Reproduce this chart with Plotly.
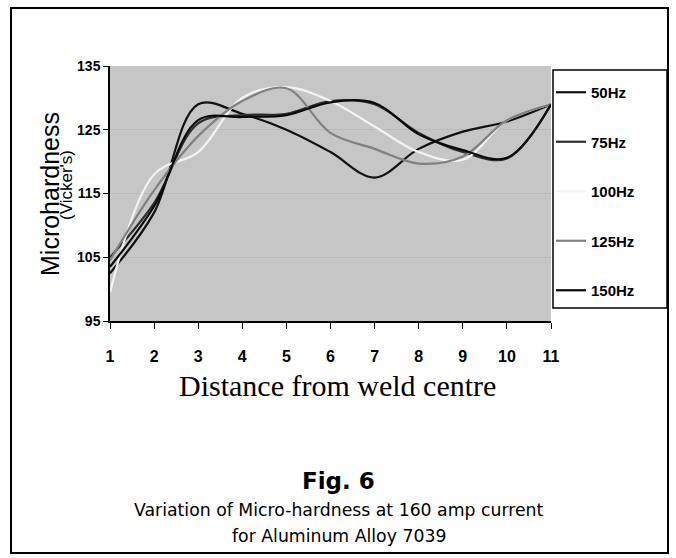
import plotly.graph_objects as go

W, H = 676, 558

distance = [1, 2, 3, 4, 5, 6, 7, 8, 9, 10, 11]
hz50 = [102.5, 112.0, 129.0, 127.5, 125.0, 121.5, 117.5, 122.0, 124.7, 126.3, 129.0]
hz75 = [105.0, 113.5, 126.0, 127.3, 127.5, 129.5, 129.0, 124.5, 121.5, 120.5, 129.0]
hz100 = [99.5, 118.0, 121.5, 130.0, 131.7, 129.5, 125.5, 121.5, 120.3, 126.5, 129.0]
hz125 = [104.5, 115.5, 124.0, 129.5, 131.5, 124.5, 122.0, 119.7, 120.8, 126.5, 129.0]
hz150 = [103.5, 113.0, 126.5, 127.0, 127.3, 129.3, 129.2, 124.3, 121.8, 120.6, 129.0]

series_names = ["50Hz", "75Hz", "100Hz", "125Hz", "150Hz"]
series_values = [hz50, hz75, hz100, hz125, hz150]
series_colors = ["#111111", "#2e2e2e", "#f4f4f4", "#808080", "#0a0a0a"]

y_ticks = [95, 105, 115, 125, 135]
x_ticks = distance


def px(p):
    return p / W


def py(p):
    return 1 - p / H


fig = go.Figure()
for name, vals, col in zip(series_names, series_values, series_colors):
    fig.add_trace(go.Scatter(
        x=distance, y=vals, name=name, mode="lines",
        line=dict(color=col, width=2.2, shape="spline", smoothing=1.0),
        legendgroup=name,
    ))

sans = "Liberation Sans, Arial"


def ann(text, x, y, size, family, angle=0):
    return dict(text=text, xref="paper", yref="paper", x=px(x), y=py(y),
                xanchor="center", yanchor="middle", textangle=angle,
                showarrow=False, font=dict(family=family, size=size, color="#000"))


fig.update_layout(
    width=W, height=H,
    margin=dict(l=0, r=0, t=0, b=0, autoexpand=False),
    paper_bgcolor="white",
    plot_bgcolor="#c6c6c6",
    showlegend=True,
    legend=dict(
        x=px(551), y=py(76), xanchor="left", yanchor="top",
        bgcolor="rgba(0,0,0,0)", borderwidth=0,
        font=dict(family=sans, size=15, color="#000", weight="bold"),
        tracegroupgap=27, itemwidth=30,
    ),
    xaxis=dict(
        domain=[px(110), px(551)], automargin=False,
        range=[1, 11], tickvals=x_ticks, ticktext=[str(v) for v in x_ticks],
        showgrid=False, zeroline=False,
        showline=True, linecolor="#000", linewidth=1.5,
        ticks="outside", ticklen=6, tickcolor="#000",
        tickfont=dict(family=sans, size=16, color="#000", weight="bold"),
        ticklabelstandoff=14,
    ),
    yaxis=dict(
        domain=[py(321), py(66)], automargin=False,
        range=[95, 135], tickvals=y_ticks, ticktext=[str(v) for v in y_ticks],
        showgrid=True, gridcolor="#bababa", gridwidth=1,
        zeroline=False,
        showline=True, linecolor="#000", linewidth=1.5,
        ticks="outside", ticklen=5, tickcolor="#000",
        tickfont=dict(family=sans, size=14, color="#000", weight="bold"),
    ),
    shapes=[
        dict(type="rect", xref="paper", yref="paper",
             x0=px(11), x1=px(668), y0=py(553), y1=py(8),
             line=dict(color="#000", width=2), fillcolor="rgba(0,0,0,0)"),
        dict(type="rect", xref="paper", yref="paper",
             x0=px(553), x1=px(667), y0=py(308), y1=py(70),
             line=dict(color="#000", width=1.5), fillcolor="rgba(0,0,0,0)"),
    ],
    annotations=[
        ann("Microhardness", 50, 194, 25, sans, -90),
        ann("(Vicker's)", 66, 185, 17, sans, -90),
        ann("Distance from weld centre", 337, 385, 30, "Liberation Serif, Times New Roman"),
        ann("<b>Fig. 6</b>", 339, 481, 23, "DejaVu Sans, Verdana"),
        ann("Variation of Micro-hardness at 160 amp current", 339, 510, 17.3, "DejaVu Sans, Verdana"),
        ann("for Aluminum Alloy 7039", 339, 536, 17.3, "DejaVu Sans, Verdana"),
    ],
)

fig.write_html(
    "out.html",
    config={"displayModeBar": False},
    post_script="document.body.style.margin='0';document.body.style.overflow='hidden';",
)
